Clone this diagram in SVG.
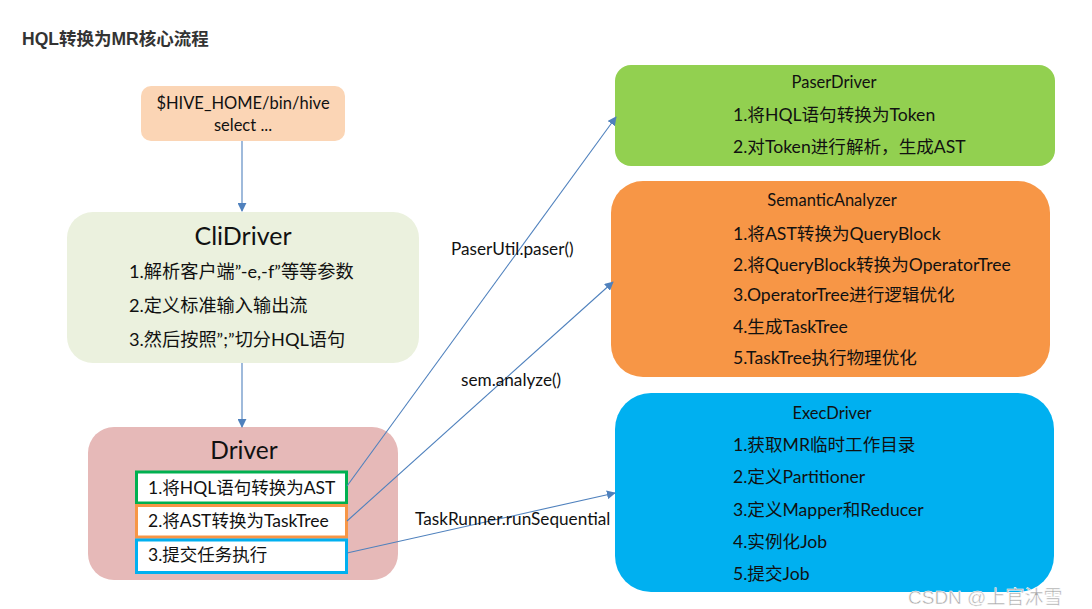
<svg xmlns="http://www.w3.org/2000/svg" width="1092" height="609" viewBox="0 0 1092 609">
<defs>
<marker id="ah" viewBox="0 0 10 10" refX="9" refY="5" markerWidth="9" markerHeight="9" markerUnits="userSpaceOnUse" orient="auto">
<path d="M0,0 L10,5 L0,10 z" fill="#4f81bd"/>
</marker>
<style>
.t{font-family:Lato,"Noto Sans CJK SC",sans-serif;fill:#111;}
.c{text-anchor:middle;}
.ln{stroke:#4f81bd;stroke-width:1.1;fill:none;marker-end:url(#ah);}
.lbl{font-family:Lato,"Noto Sans CJK SC",sans-serif;font-size:17.2px;fill:#111;}
.r{font-size:17.6px;}
</style>
</defs>
<rect width="1092" height="609" fill="#fff"/>
<text x="22" y="45" font-family="'Liberation Sans','Noto Sans CJK SC',sans-serif" font-size="17.5" font-weight="bold" fill="#333">HQL转换为MR核心流程</text>

<g id="start">
<rect x="141" y="86" width="204" height="55" rx="10" fill="#fbd5b5"/>
<text class="t c" x="243" y="109" font-size="16.5">$HIVE_HOME/bin/hive</text>
<text class="t c" x="243" y="131" font-size="16.5">select ...</text>
</g>

<g id="clidriver">
<rect x="67" y="212" width="352" height="151" rx="26" fill="#ebf1de"/>
<text class="t c" x="243" y="245" font-size="25">CliDriver</text>
<text class="t" x="129" y="278" font-size="18.2">1.解析客户端”-e,-f”等等参数</text>
<text class="t" x="129" y="312" font-size="18.2">2.定义标准输入输出流</text>
<text class="t" x="129" y="346" font-size="18.2">3.然后按照”;”切分HQL语句</text>
</g>

<g id="driver">
<rect x="88" y="427" width="310" height="153" rx="26" fill="#e6b9b8"/>
<text class="t c" x="244" y="459" font-size="24.5">Driver</text>
<rect x="136.5" y="472" width="210" height="31" fill="#fff" stroke="#00b050" stroke-width="3"/>
<rect x="136.5" y="505.5" width="210" height="31.5" fill="#fff" stroke="#f79646" stroke-width="3"/>
<rect x="136.5" y="540" width="210" height="32.5" fill="#fff" stroke="#00b0f0" stroke-width="3"/>
<text class="t" x="148" y="494" font-size="17.5">1.将HQL语句转换为AST</text>
<text class="t" x="148" y="527" font-size="17.5">2.将AST转换为TaskTree</text>
<text class="t" x="148" y="561" font-size="17.5">3.提交任务执行</text>
</g>

<g id="paserdriver">
<rect x="615" y="65" width="440" height="101" rx="16" fill="#92d050"/>
<text class="t c" x="834" y="88" font-size="16.5">PaserDriver</text>
<text class="t r" x="733" y="121">1.将HQL语句转换为Token</text>
<text class="t r" x="733" y="153">2.对Token进行解析，生成AST</text>
</g>

<g id="semanticanalyzer">
<rect x="611" y="181" width="439" height="196" rx="32" fill="#f79646"/>
<text class="t c" x="832" y="206" font-size="16.5">SemanticAnalyzer</text>
<text class="t r" x="733" y="240">1.将AST转换为QueryBlock</text>
<text class="t r" x="733" y="271">2.将QueryBlock转换为OperatorTree</text>
<text class="t r" x="733" y="301">3.OperatorTree进行逻辑优化</text>
<text class="t r" x="733" y="333">4.生成TaskTree</text>
<text class="t r" x="733" y="364">5.TaskTree执行物理优化</text>
</g>

<g id="execdriver">
<rect x="615" y="393" width="439" height="199" rx="36" fill="#00b0f0"/>
<text class="t c" x="832" y="419" font-size="16.5">ExecDriver</text>
<text class="t r" x="733" y="451">1.获取MR临时工作目录</text>
<text class="t r" x="733" y="483">2.定义Partitioner</text>
<text class="t r" x="733" y="516">3.定义Mapper和Reducer</text>
<text class="t r" x="733" y="548">4.实例化Job</text>
<text class="t r" x="733" y="580">5.提交Job</text>
</g>

<g id="connectors">
<line class="ln" x1="242" y1="141" x2="242" y2="211"/>
<line class="ln" x1="242" y1="363" x2="242" y2="427"/>
<line class="ln" x1="347" y1="486" x2="616" y2="117"/>
<line class="ln" x1="347" y1="521" x2="613" y2="282"/>
<line class="ln" x1="347" y1="553" x2="615" y2="493"/>
<text class="lbl" x="451" y="255">PaserUtil.paser()</text>
<text class="lbl" x="461" y="386">sem.analyze()</text>
<text class="lbl" x="415" y="525">TaskRunner.runSequential</text>
</g>

<text x="908" y="604" font-family="'Liberation Sans','Noto Sans CJK SC',sans-serif" font-size="19" fill="#a8a8a8" stroke="#fff" stroke-width="0.5">CSDN @上官沐雪</text>
</svg>
